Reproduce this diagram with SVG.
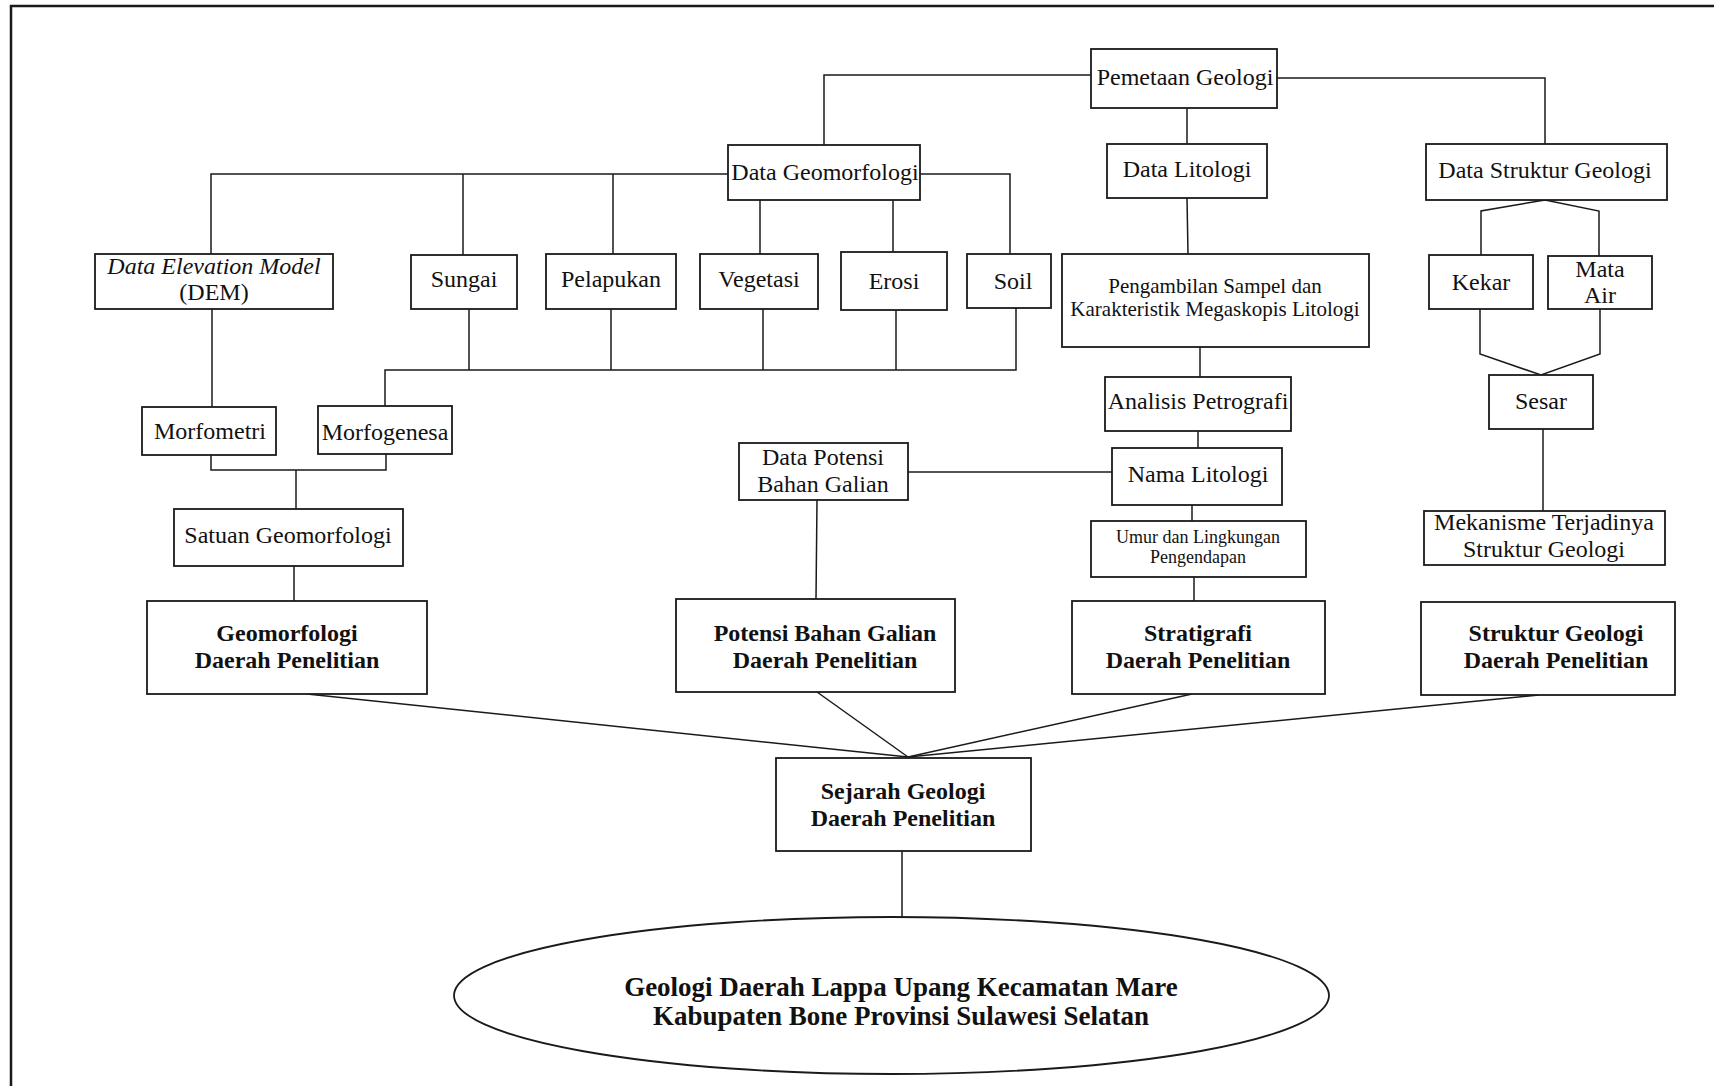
<svg xmlns="http://www.w3.org/2000/svg" width="1714" height="1086" viewBox="0 0 1714 1086">
<style>
.b{fill:#fff;stroke:#1a1a1a;stroke-width:1.8}
.c{fill:none;stroke:#1a1a1a;stroke-width:1.5}
text{font-family:"Liberation Serif","Times New Roman",serif;fill:#111;text-anchor:middle}
.t{font-size:24px}
.s{font-size:21px}
.x{font-size:18px}
.h{font-size:24px;font-weight:bold}
.e{font-size:27px;font-weight:bold}
</style>
<rect width="1714" height="1086" fill="#fff"/>
<path d="M11,1086 V6 H1714" fill="none" stroke="#1a1a1a" stroke-width="2.5"/>
<g id="connectors" class="c">
<path d="M1091,75 H824 V145"/>
<path d="M1277,78 H1545 V144"/>
<path d="M1187,108 V144"/>
<path d="M728,174 H211 V254"/>
<path d="M463,174 V255"/>
<path d="M613,174 V254"/>
<path d="M760,200 V254"/>
<path d="M893,200 V252"/>
<path d="M920,174 H1010 V254"/>
<path d="M469,309 V370"/>
<path d="M611,309 V370"/>
<path d="M763,309 V370"/>
<path d="M896,310 V370"/>
<path d="M1016,308 V370 H385 V406"/>
<path d="M212,309 V407"/>
<path d="M211,455 V470 H386 V454"/>
<path d="M296,470 V509"/>
<path d="M294,566 V601"/>
<path d="M817,500 L816,599"/>
<path d="M908,472 H1112"/>
<path d="M1187,198 L1188,254"/>
<path d="M1200,347 V377"/>
<path d="M1198,431 V448"/>
<path d="M1192,505 V521"/>
<path d="M1194,577 V601"/>
<path d="M1481,255 V211 L1545,200 L1599,211 V256"/>
<path d="M1480,309 V354 L1541,375 L1600,354 V309"/>
<path d="M1543,429 V511"/>
<path d="M307,694 L908,757"/>
<path d="M817,692 L908,757"/>
<path d="M1192,694 L908,757"/>
<path d="M1539,695 L908,757"/>
<path d="M902,851 V917"/>
</g>
<g id="pemetaan"><rect class="b" x="1091" y="49" width="186" height="59"/><text class="t" x="1185" y="85">Pemetaan Geologi</text></g>
<g id="data-geomorfologi"><rect class="b" x="728" y="145" width="192" height="55"/><text class="t" x="825" y="180">Data Geomorfologi</text></g>
<g id="data-litologi"><rect class="b" x="1107" y="144" width="160" height="54"/><text class="t" x="1187" y="177">Data Litologi</text></g>
<g id="data-struktur"><rect class="b" x="1426" y="144" width="241" height="56"/><text class="t" x="1545" y="178">Data Struktur Geologi</text></g>
<g id="dem"><rect class="b" x="95" y="254" width="238" height="55"/><text class="t" x="214" y="274" font-style="italic">Data Elevation Model</text><text class="t" x="214" y="300">(DEM)</text></g>
<g id="sungai"><rect class="b" x="411" y="255" width="106" height="54"/><text class="t" x="464" y="287">Sungai</text></g>
<g id="pelapukan"><rect class="b" x="546" y="254" width="130" height="55"/><text class="t" x="611" y="287">Pelapukan</text></g>
<g id="vegetasi"><rect class="b" x="700" y="254" width="118" height="55"/><text class="t" x="759" y="287">Vegetasi</text></g>
<g id="erosi"><rect class="b" x="841" y="252" width="106" height="58"/><text class="t" x="894" y="289">Erosi</text></g>
<g id="soil"><rect class="b" x="967" y="254" width="84" height="54"/><text class="t" x="1013" y="289">Soil</text></g>
<g id="pengambilan"><rect class="b" x="1062" y="254" width="307" height="93"/><text class="s" x="1215" y="293">Pengambilan Sampel dan</text><text class="s" x="1215" y="316">Karakteristik Megaskopis Litologi</text></g>
<g id="kekar"><rect class="b" x="1429" y="255" width="104" height="54"/><text class="t" x="1481" y="290">Kekar</text></g>
<g id="mata-air"><rect class="b" x="1548" y="256" width="104" height="53"/><text class="t" x="1600" y="277">Mata</text><text class="t" x="1600" y="303">Air</text></g>
<g id="morfometri"><rect class="b" x="142" y="407" width="134" height="48"/><text class="t" x="210" y="439">Morfometri</text></g>
<g id="morfogenesa"><rect class="b" x="318" y="406" width="134" height="48"/><text class="t" x="385" y="440">Morfogenesa</text></g>
<g id="analisis"><rect class="b" x="1105" y="377" width="186" height="54"/><text class="t" x="1198" y="409">Analisis Petrografi</text></g>
<g id="sesar"><rect class="b" x="1489" y="375" width="104" height="54"/><text class="t" x="1541" y="409">Sesar</text></g>
<g id="data-potensi"><rect class="b" x="739" y="443" width="169" height="57"/><text class="t" x="823" y="465">Data Potensi</text><text class="t" x="823" y="492">Bahan Galian</text></g>
<g id="nama-litologi"><rect class="b" x="1112" y="448" width="170" height="57"/><text class="t" x="1198" y="482">Nama Litologi</text></g>
<g id="satuan"><rect class="b" x="174" y="509" width="229" height="57"/><text class="t" x="288" y="543">Satuan Geomorfologi</text></g>
<g id="umur"><rect class="b" x="1091" y="521" width="215" height="56"/><text class="x" x="1198" y="543">Umur dan Lingkungan</text><text class="x" x="1198" y="563">Pengendapan</text></g>
<g id="mekanisme"><rect class="b" x="1424" y="511" width="241" height="54"/><text class="t" x="1544" y="530">Mekanisme Terjadinya</text><text class="t" x="1544" y="557">Struktur Geologi</text></g>
<g id="geomorfologi"><rect class="b" x="147" y="601" width="280" height="93"/><text class="h" x="287" y="641">Geomorfologi</text><text class="h" x="287" y="668">Daerah Penelitian</text></g>
<g id="potensi"><rect class="b" x="676" y="599" width="279" height="93"/><text class="h" x="825" y="641">Potensi Bahan Galian</text><text class="h" x="825" y="668">Daerah Penelitian</text></g>
<g id="stratigrafi"><rect class="b" x="1072" y="601" width="253" height="93"/><text class="h" x="1198" y="641">Stratigrafi</text><text class="h" x="1198" y="668">Daerah Penelitian</text></g>
<g id="struktur"><rect class="b" x="1421" y="602" width="254" height="93"/><text class="h" x="1556" y="641">Struktur Geologi</text><text class="h" x="1556" y="668">Daerah Penelitian</text></g>
<g id="sejarah"><rect class="b" x="776" y="758" width="255" height="93"/><text class="h" x="903" y="799">Sejarah Geologi</text><text class="h" x="903" y="826">Daerah Penelitian</text></g>
<g id="geologi-daerah"><ellipse class="b" cx="891.5" cy="995.5" rx="437.5" ry="78.5"/><text class="e" x="901" y="996">Geologi Daerah Lappa Upang Kecamatan Mare</text><text class="e" x="901" y="1025">Kabupaten Bone Provinsi Sulawesi Selatan</text></g>
</svg>
